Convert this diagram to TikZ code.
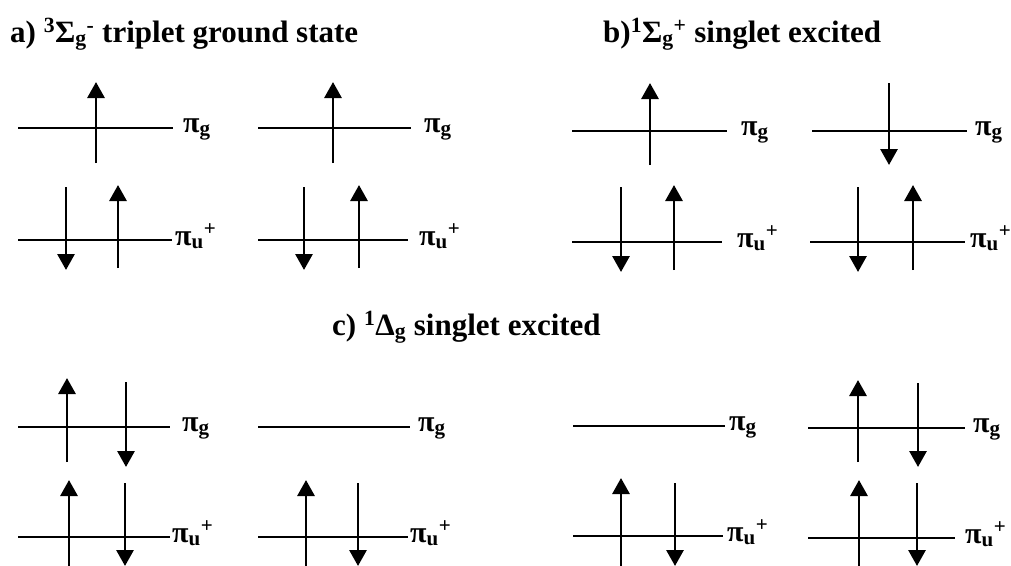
\documentclass[tikz,border=0pt]{standalone}
\usepackage{fontspec}
\setmainfont{Liberation Serif}
\usetikzlibrary{arrows.meta}
\newcommand\PG{π\textsubscript{g}}
\newcommand\PU{π\textsubscript{u}\textsuperscript{+}}
\begin{document}
\begin{tikzpicture}[x=1pt,y=-1pt,
  level/.style={line width=2.9pt},
  spin/.style={line width=2.9pt,-{Triangle[width=17pt,length=16pt]}},
  lab/.style={anchor=base west,inner sep=0pt,font=\fontsize{30}{36}\selectfont\bfseries},
  ttl/.style={anchor=base west,inner sep=0pt,font=\fontsize{31}{37}\selectfont\bfseries}]
\useasboundingbox (0,0) rectangle (1011,565);
% titles
\node[ttl] (ta) at (10,42) {a) \textsuperscript{3}Σ\textsubscript{g}\textsuperscript{-} triplet ground state};
\node[ttl] (tb) at (603,42) {b)\textsuperscript{1}Σ\textsubscript{g}\textsuperscript{+} singlet excited};
\node[ttl] (tc) at (332,335) {c) \textsuperscript{1}Δ\textsubscript{g} singlet excited};
% ---------- panel a ----------
\coordinate (a1gL) at (18,128); \coordinate (a1gR) at (173,128);
\draw[level] (a1gL) -- (a1gR);
\node[lab] (la1g) at (183,132) {\PG};
\draw[spin] (96,163) -- (96,82);
\coordinate (a1uL) at (18,240); \coordinate (a1uR) at (172,240);
\draw[level] (a1uL) -- (a1uR);
\node[lab] (la1u) at (175,245) {\PU};
\draw[spin] (66,187) -- (66,270);
\draw[spin] (118,268) -- (118,185);
\coordinate (a2gL) at (258,128); \coordinate (a2gR) at (411,128);
\draw[level] (a2gL) -- (a2gR);
\node[lab] (la2g) at (424,132) {\PG};
\draw[spin] (333,163) -- (333,82);
\coordinate (a2uL) at (258,240); \coordinate (a2uR) at (408,240);
\draw[level] (a2uL) -- (a2uR);
\node[lab] (la2u) at (419,245) {\PU};
\draw[spin] (304,187) -- (304,270);
\draw[spin] (359,268) -- (359,185);
% ---------- panel b ----------
\coordinate (b1gL) at (572,131); \coordinate (b1gR) at (727,131);
\draw[level] (b1gL) -- (b1gR);
\node[lab] (lb1g) at (741,135) {\PG};
\draw[spin] (650,165) -- (650,83);
\coordinate (b1uL) at (572,242); \coordinate (b1uR) at (722,242);
\draw[level] (b1uL) -- (b1uR);
\node[lab] (lb1u) at (737,247) {\PU};
\draw[spin] (621,187) -- (621,272);
\draw[spin] (674,270) -- (674,185);
\coordinate (b2gL) at (812,131); \coordinate (b2gR) at (967,131);
\draw[level] (b2gL) -- (b2gR);
\node[lab] (lb2g) at (975,135) {\PG};
\draw[spin] (889,83) -- (889,165);
\coordinate (b2uL) at (810,242); \coordinate (b2uR) at (965,242);
\draw[level] (b2uL) -- (b2uR);
\node[lab] (lb2u) at (970,247) {\PU};
\draw[spin] (858,187) -- (858,272);
\draw[spin] (913,270) -- (913,185);
% ---------- panel c ----------
\coordinate (c1gL) at (18,427); \coordinate (c1gR) at (170,427);
\draw[level] (c1gL) -- (c1gR);
\node[lab] (lc1g) at (182,431) {\PG};
\draw[spin] (67,462) -- (67,378);
\draw[spin] (126,382) -- (126,467);
\coordinate (c1uL) at (18,537); \coordinate (c1uR) at (170,537);
\draw[level] (c1uL) -- (c1uR);
\node[lab] (lc1u) at (172,542) {\PU};
\draw[spin] (69,566) -- (69,480);
\draw[spin] (125,483) -- (125,566);
\coordinate (c2gL) at (258,427); \coordinate (c2gR) at (410,427);
\draw[level] (c2gL) -- (c2gR);
\node[lab] (lc2g) at (418,431) {\PG};
\coordinate (c2uL) at (258,537); \coordinate (c2uR) at (408,537);
\draw[level] (c2uL) -- (c2uR);
\node[lab] (lc2u) at (410,542) {\PU};
\draw[spin] (306,566) -- (306,480);
\draw[spin] (358,483) -- (358,566);
\coordinate (c3gL) at (573,426); \coordinate (c3gR) at (725,426);
\draw[level] (c3gL) -- (c3gR);
\node[lab] (lc3g) at (729,430) {\PG};
\coordinate (c3uL) at (573,536); \coordinate (c3uR) at (723,536);
\draw[level] (c3uL) -- (c3uR);
\node[lab] (lc3u) at (727,541) {\PU};
\draw[spin] (621,566) -- (621,478);
\draw[spin] (675,483) -- (675,566);
\coordinate (c4gL) at (808,428); \coordinate (c4gR) at (965,428);
\draw[level] (c4gL) -- (c4gR);
\node[lab] (lc4g) at (973,432) {\PG};
\draw[spin] (858,462) -- (858,380);
\draw[spin] (918,383) -- (918,467);
\coordinate (c4uL) at (808,538); \coordinate (c4uR) at (955,538);
\draw[level] (c4uL) -- (c4uR);
\node[lab] (lc4u) at (965,543) {\PU};
\draw[spin] (859,566) -- (859,480);
\draw[spin] (917,483) -- (917,566);
\end{tikzpicture}
\end{document}
